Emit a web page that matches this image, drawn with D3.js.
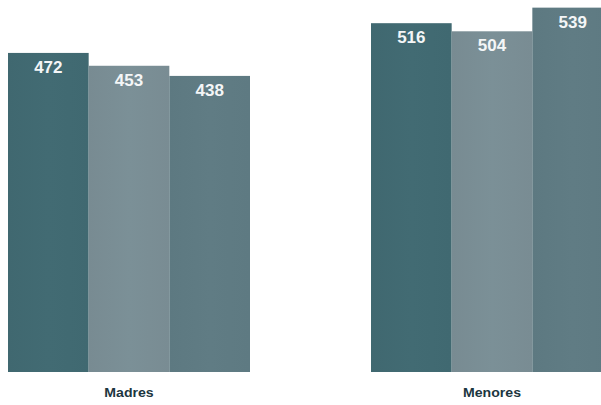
<!DOCTYPE html>
<html>
<head>
<meta charset="utf-8">
<script src="https://cdn.jsdelivr.net/npm/d3@7"></script>
<style>
html,body{margin:0;padding:0;background:#fff;}
svg{display:block;}
</style>
</head>
<body>
<svg id="chart" width="601" height="405"></svg>
<script>
const groups = ["Madres", "Menores"];
const seriesKeys = ["s1", "s2", "s3"];
const s1 = [472, 516];
const s2 = [453, 504];
const s3 = [438, 539];
const colors = ["#416a72", "#7a8e95", "#5f7b83"];

const svg = d3.select("#chart");
const baseY = 372;

const x0 = d3.scaleBand().domain(groups).range([8, 613]).paddingInner(1/3).paddingOuter(0);
const x1 = d3.scaleBand().domain(seriesKeys).range([0, x0.bandwidth()]).padding(0);
const y = d3.scaleLinear().domain([0, 550.3]).range([baseY, 0]);

const data = groups.map((g, i) => ({
  group: g,
  values: [
    {key: "s1", value: s1[i]},
    {key: "s2", value: s2[i]},
    {key: "s3", value: s3[i]}
  ]
}));

const defs = svg.append("defs");
colors.forEach((c, i) => {
  const g = defs.append("linearGradient").attr("id", "grad" + i)
    .attr("x1", "0").attr("x2", "1").attr("y1", "0").attr("y2", "0");
  const cc = d3.color(c);
  g.append("stop").attr("offset", "0%").attr("stop-color", cc.darker(0.05));
  g.append("stop").attr("offset", "50%").attr("stop-color", cc.brighter(0.03));
  g.append("stop").attr("offset", "100%").attr("stop-color", cc.darker(0.03));
});

const gg = svg.selectAll("g.grp").data(data).join("g")
  .attr("class", "grp")
  .attr("transform", d => `translate(${x0(d.group)},0)`);

gg.selectAll("rect").data(d => d.values).join("rect")
  .attr("x", d => x1(d.key))
  .attr("width", x1.bandwidth())
  .attr("y", d => y(d.value))
  .attr("height", d => baseY - y(d.value))
  .attr("fill", (d, i) => `url(#grad${i})`);

gg.selectAll("text.val").data(d => d.values).join("text")
  .attr("class", "val")
  .attr("x", d => x1(d.key) + x1.bandwidth() / 2)
  .attr("y", d => y(d.value) + 20)
  .attr("text-anchor", "middle")
  .attr("font-family", "Liberation Sans, Arial, sans-serif")
  .attr("font-weight", "bold")
  .attr("font-size", 17)
  .attr("fill", "#f4f6f7")
  .text(d => d.value);

svg.selectAll("text.cat").data(groups).join("text")
  .attr("class", "cat")
  .attr("transform", d => `translate(${x0(d) + x0.bandwidth() / 2},397) scale(1.13,1)`)
  .attr("text-anchor", "middle")
  .attr("font-family", "Liberation Sans, Arial, sans-serif")
  .attr("font-weight", "bold")
  .attr("font-size", 12.5)
  .attr("fill", "#1c3640")
  .text(d => d);
</script>
</body>
</html>
